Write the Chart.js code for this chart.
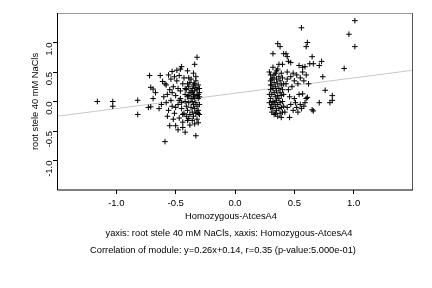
<!DOCTYPE html>
<html>
<head>
<meta charset="utf-8">
<script src="https://cdn.jsdelivr.net/npm/chart.js@4/dist/chart.umd.min.js"></script>
<style>
html,body{margin:0;padding:0;background:#fff;}
#wrap{width:432px;height:288px;}
</style>
</head>
<body>
<div id="wrap"><canvas id="c" width="432" height="288"></canvas></div>
<script>
// ---- data ----
const leftX = [-1.16,-1.03,-1.03,-0.82,-0.82,-0.73,-0.71,-0.72,-0.63,-0.71,-0.69,-0.67,-0.69,-0.61,-0.59,-0.53,-0.49,-0.45,-0.46,-0.40,-0.35,-0.47,-0.32,-0.34,-0.55,-0.50,-0.59,-0.33,-0.44,-0.39,-0.31,-0.31,
 -0.64,-0.62,-0.60,-0.58,-0.57,-0.56,-0.55,-0.54,-0.53,-0.52,-0.51,-0.50,-0.49,-0.48,-0.47,-0.46,-0.46,-0.45,-0.44,-0.44,-0.52,-0.57,-0.48,-0.42,-0.58,-0.54,-0.51,-0.56,-0.43,-0.42,
 -0.42,-0.41,-0.41,-0.40,-0.40,-0.39,-0.39,-0.38,-0.38,-0.38,-0.37,-0.37,-0.36,-0.36,-0.36,-0.35,-0.35,-0.35,-0.35,-0.34,-0.34,-0.34,-0.33,-0.33,-0.33,-0.33,-0.32,-0.32,-0.32,-0.32,-0.31,-0.31,-0.31,-0.30,-0.30,-0.30,-0.30,-0.39,-0.37,-0.36,-0.41,-0.42,-0.40,-0.34,-0.38,-0.33,-0.35,-0.37,-0.39,-0.31,-0.34,-0.36,-0.32,-0.30,-0.40,-0.43,
 -0.50,-0.47,-0.44,-0.53,-0.48,-0.45];
const leftY = [0.00,0.00,-0.08,0.02,-0.22,-0.10,-0.09,0.44,0.44,0.24,0.21,0.15,0.05,0.34,0.30,0.51,0.53,0.59,0.55,0.52,0.48,0.44,0.75,0.63,-0.41,-0.41,-0.68,-0.58,-0.44,-0.29,-0.36,-0.20,
 -0.12,-0.05,0.08,-0.02,0.12,-0.15,0.20,0.02,-0.08,0.25,-0.20,0.10,0.35,-0.05,-0.28,0.18,0.05,-0.12,0.30,-0.35,-0.30,-0.25,-0.48,-0.52,0.28,0.38,0.42,0.45,0.40,0.12,
 0.00,-0.08,0.20,-0.15,0.08,0.25,-0.02,0.15,-0.22,0.32,0.05,-0.10,0.22,-0.18,0.00,0.12,-0.05,0.28,-0.25,0.18,-0.12,0.06,0.24,-0.02,-0.20,0.35,0.10,-0.08,0.20,-0.30,0.05,-0.15,0.28,0.15,-0.05,0.22,-0.22,0.40,0.38,-0.32,-0.25,0.22,0.30,-0.38,-0.40,0.42,0.08,0.18,0.10,0.12,0.30,0.15,-0.18,0.08,-0.32,-0.20,
 -0.10,0.02,-0.22,0.15,0.22,-0.02];
const rightX = [1.01,0.56,0.96,1.01,0.92,0.36,0.38,0.61,0.60,0.32,0.41,0.43,0.44,0.65,0.45,0.47,0.63,0.66,0.73,0.71,0.37,0.40,0.54,0.57,0.59,0.74,0.76,0.82,0.82,0.80,0.71,0.65,0.66,0.39,0.46,
 0.44,0.47,0.49,0.50,0.52,0.53,0.55,0.57,0.58,0.60,0.62,0.48,0.45,0.54,0.57,0.60,0.61,0.50,0.47,0.52,0.55,0.58,0.49,0.53,0.56,0.44,0.46,0.43,0.51,0.59,0.42,0.44,
 0.29,0.30,0.30,0.30,0.30,0.30,0.31,0.31,0.31,0.31,0.32,0.32,0.32,0.32,0.33,0.33,0.33,0.33,0.34,0.34,0.34,0.34,0.35,0.35,0.35,0.35,0.36,0.36,0.36,0.36,0.37,0.37,0.37,0.37,0.38,0.38,0.38,0.38,0.39,0.39,0.39,0.39,0.40,0.40,0.40,0.41,0.41,0.41,0.32,0.35,0.31,0.33,0.30,0.34,0.36,0.40,0.29,0.29];
const rightY = [1.37,1.25,1.14,0.93,0.56,0.98,0.93,1.00,0.93,0.81,0.81,0.81,0.76,0.76,0.68,0.66,0.64,0.64,0.68,0.61,0.63,0.63,0.61,0.58,0.59,0.42,0.19,0.10,0.02,-0.02,-0.02,-0.14,-0.16,-0.27,-0.27,
 0.50,0.42,0.48,0.35,0.45,0.30,0.40,0.50,0.35,0.45,0.30,0.25,0.20,0.12,0.13,0.05,0.07,0.05,-0.05,-0.10,-0.05,-0.08,-0.15,-0.18,-0.12,-0.10,0.08,0.30,-0.02,-0.02,-0.18,0.38,
 0.50,0.35,0.20,0.05,-0.10,0.45,0.28,0.12,-0.05,-0.18,0.40,0.22,0.00,-0.12,0.32,0.15,-0.02,-0.22,0.48,0.25,0.08,-0.08,0.38,0.18,-0.15,0.02,0.30,0.10,-0.05,0.55,0.22,0.42,-0.12,0.05,0.35,0.15,-0.02,-0.20,0.28,0.48,0.10,-0.10,0.40,0.20,0.00,0.30,0.12,-0.08,0.58,0.52,0.38,0.45,0.28,-0.20,-0.25,-0.18,0.12,-0.02];
const regX = [-1.5, 1.5];
const regY = [-0.25, 0.53];
const xTicks = [-1.0, -0.5, 0.0, 0.5, 1.0];
const yTicks = [-1.0, -0.5, 0.0, 0.5, 1.0];
const xTitle = "Homozygous-AtcesA4";
const yTitle = "root stele 40 mM NaCls";
const caption1 = "yaxis: root stele 40 mM NaCls, xaxis: Homozygous-AtcesA4";
const caption2 = "Correlation of module: y=0.26x+0.14, r=0.35 (p-value:5.000e-01)";

const FONT = '"Liberation Sans", Arial, Helvetica, sans-serif';
const pts = leftX.map((x,i)=>({x, y:leftY[i]})).concat(rightX.map((x,i)=>({x, y:rightY[i]})));
const reg = regX.map((x,i)=>({x, y:regY[i]}));

const boxPlugin = {
  id:'box',
  afterDraw(chart){
    const {ctx, chartArea:a} = chart;
    ctx.save();
    ctx.lineWidth = 1;
    ctx.strokeStyle = '#999';
    ctx.beginPath(); ctx.moveTo(a.left, a.top+0.5); ctx.lineTo(a.right, a.top+0.5); ctx.stroke();
    ctx.strokeStyle = '#555';
    ctx.beginPath(); ctx.moveTo(a.right-0.5, a.top); ctx.lineTo(a.right-0.5, a.bottom); ctx.stroke();
    ctx.strokeStyle = '#000';
    ctx.beginPath(); ctx.moveTo(a.left+0.5, a.top); ctx.lineTo(a.left+0.5, a.bottom); ctx.lineTo(a.right, a.bottom); ctx.stroke();
    // texts
    ctx.fillStyle = '#000';
    ctx.font = '9.3px ' + FONT;
    ctx.textAlign = 'center';
    ctx.textBaseline = 'middle';
    ctx.fillText(xTitle, 231, 216);
    ctx.fillText(caption1, 229, 233);
    ctx.fillText(caption2, 223, 250);
    ctx.save();
    ctx.translate(35, (a.top + a.bottom)/2);
    ctx.rotate(-Math.PI/2);
    ctx.fillText(yTitle, 0, 0);
    ctx.restore();
    ctx.restore();
  }
};

new Chart(document.getElementById('c'), {
  type:'scatter',
  data:{datasets:[
    {data:reg, type:'line', borderColor:'#c8c8c8', borderWidth:1, pointRadius:0, fill:false, order:2},
    {data:pts, pointStyle:'cross', pointRadius:2.8, borderColor:'#000', backgroundColor:'#000', pointBorderWidth:1, order:1}
  ]},
  options:{
    responsive:false, animation:false, devicePixelRatio:1,
    layout:{padding:{left:0, top:13, right:19, bottom:0}},
    plugins:{legend:{display:false}, tooltip:{enabled:false}},
    scales:{
      x:{
        type:'linear', min:-1.5, max:1.5,
        afterBuildTicks(s){ s.ticks = xTicks.map(v=>({value:v})); },
        afterFit(s){ s.height = 98; },
        grid:{display:true, drawOnChartArea:false, drawTicks:true, tickLength:4, color:'#000'},
        border:{display:false},
        ticks:{color:'#000', font:{family:FONT, size:9.5}, padding:4, maxRotation:0, callback:v=>Number(v).toFixed(1)}
      },
      y:{
        type:'linear', min:-1.5, max:1.5,
        afterBuildTicks(s){ s.ticks = yTicks.map(v=>({value:v})); },
        afterFit(s){ s.width = 57; },
        grid:{display:true, drawOnChartArea:false, drawTicks:true, tickLength:4, color:'#000'},
        border:{display:false},
        ticks:{color:'#000', font:{family:FONT, size:9.5}, padding:4, minRotation:90, maxRotation:90, callback:v=>Number(v).toFixed(1)}
      }
    }
  },
  plugins:[boxPlugin]
});
</script>
</body>
</html>
